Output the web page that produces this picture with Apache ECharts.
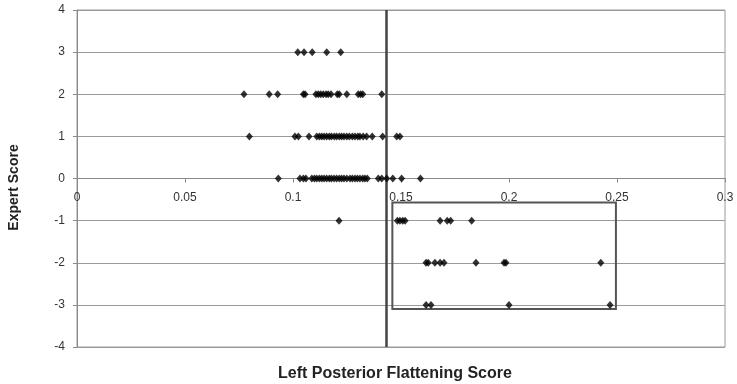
<!DOCTYPE html>
<html>
<head>
<meta charset="utf-8">
<script src="https://cdn.jsdelivr.net/npm/echarts@6/dist/echarts.min.js"></script>
<style>
  html, body { margin: 0; padding: 0; background: #fff; }
  #chart { width: 737px; height: 384px; }
</style>
</head>
<body>
<div id="chart"></div>
<script>
// Flattening scores for each expert score level
const score3 = [0.1022, 0.1051, 0.1089, 0.1156, 0.1221];
const score2 = [0.0773, 0.0890, 0.0929, 0.1048, 0.1056, 0.1106, 0.1117, 0.1128, 0.1140, 0.1153,
  0.1163, 0.1176, 0.1205, 0.1214, 0.1249, 0.1302, 0.1313, 0.1323, 0.1411];
const score1 = [0.0798, 0.1009, 0.1025, 0.1074, 0.1110, 0.1122, 0.1133, 0.1144, 0.1156, 0.1168,
  0.1178, 0.1191, 0.1202, 0.1214, 0.1225, 0.1236, 0.1249, 0.1261, 0.1275, 0.1287,
  0.1300, 0.1310, 0.1325, 0.1341, 0.1367, 0.1415, 0.1480, 0.1495];
const score0 = [0.0932, 0.1032, 0.1048, 0.1060, 0.1087, 0.1099, 0.1110, 0.1122, 0.1133, 0.1144,
  0.1156, 0.1168, 0.1178, 0.1190, 0.1202, 0.1214, 0.1225, 0.1236, 0.1249, 0.1264,
  0.1275, 0.1287, 0.1298, 0.1310, 0.1323, 0.1333, 0.1344, 0.1395, 0.1411, 0.1434,
  0.1462, 0.1503, 0.1590];
const scoreM1 = [0.1213, 0.1483, 0.1495, 0.1508, 0.1519, 0.1681, 0.1714, 0.1730, 0.1827];
const scoreM2 = [0.1616, 0.1626, 0.1657, 0.1681, 0.1699, 0.1847, 0.1977, 0.1986, 0.2425];
const scoreM3 = [0.1616, 0.1639, 0.2000, 0.2468];

const levels = [
  [3, score3], [2, score2], [1, score1], [0, score0],
  [-1, scoreM1], [-2, scoreM2], [-3, scoreM3]
];

// Threshold line and highlighted region
const threshold = 0.143;
const boxX = [0.146, 0.2495];
const boxY = [-0.57, -3.1];

const points = [];
levels.forEach(([y, xs]) => xs.forEach(x => points.push([x, y])));

// Plot area; the x axis is drawn across the middle, at expert score 0
const gridTop = 10, gridBottom = 37, chartH = 384;
const plotH = chartH - gridTop - gridBottom;
const zeroShift = -plotH / 2;

const chart = echarts.init(document.getElementById('chart'));
chart.setOption({
  animation: false,
  grid: {
    left: 77, right: 12, top: gridTop, bottom: gridBottom,
    outerBoundsMode: 'none',
    show: true, borderColor: '#9a9a9a', borderWidth: 1
  },
  xAxis: {
    type: 'value', min: 0, max: 0.3, interval: 0.05,
    offset: zeroShift,
    name: 'Left Posterior Flattening Score',
    nameLocation: 'middle', nameGap: 187,
    nameTextStyle: {
      fontFamily: 'Liberation Sans', fontWeight: 'bold', fontSize: 16, color: '#222',
      padding: [0, 12, 0, 0]
    },
    axisLine: { onZero: false, lineStyle: { color: '#8a8a8a', width: 1 } },
    axisTick: { show: true, inside: false, length: 4, lineStyle: { color: '#8a8a8a' } },
    axisLabel: { fontFamily: 'Liberation Sans', fontSize: 12, color: '#333', margin: 13 },
    splitLine: { show: false }
  },
  yAxis: {
    type: 'value', min: -4, max: 4, interval: 1,
    name: 'Expert Score',
    nameLocation: 'middle', nameGap: 56, nameRotate: 90,
    nameTextStyle: {
      fontFamily: 'Liberation Sans', fontWeight: 'bold', fontSize: 14, color: '#222',
      padding: [0, 18, 0, 0]
    },
    axisLine: { show: true, onZero: false, lineStyle: { color: '#8a8a8a', width: 1 } },
    axisTick: { show: true, length: 4, lineStyle: { color: '#8a8a8a' } },
    axisLabel: { fontFamily: 'Liberation Sans', fontSize: 12, color: '#333', margin: 12 },
    splitLine: { show: true, lineStyle: { color: '#9a9a9a', width: 1 } }
  },
  series: [{
    type: 'scatter',
    data: points,
    symbol: 'diamond',
    symbolSize: [7, 8],
    itemStyle: { color: '#000' },
    z: 5,
    markLine: {
      silent: true,
      symbol: 'none',
      label: { show: false },
      lineStyle: { color: '#444', width: 2.5, type: 'solid' },
      data: [[{ coord: [threshold, 4] }, { coord: [threshold, -4] }]]
    },
    markArea: {
      silent: true,
      itemStyle: { color: 'rgba(0,0,0,0)', borderColor: '#555', borderWidth: 2 },
      data: [[{ coord: [boxX[0], boxY[0]] }, { coord: [boxX[1], boxY[1]] }]]
    }
  }]
});
</script>
</body>
</html>
